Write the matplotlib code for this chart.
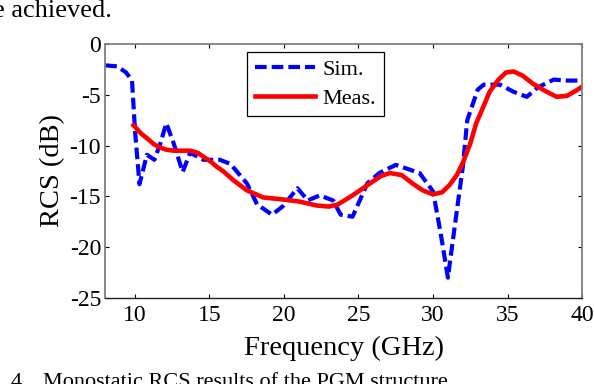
import matplotlib
matplotlib.use("Agg")
import matplotlib.pyplot as plt

# Simulated RCS (blue dashed)
sim_freq = [8.0, 8.8, 9.4, 9.8, 10.0, 10.3, 10.8, 11.3, 11.7, 12.1, 12.6, 13.2, 13.7, 14.6, 15.7,
            16.4, 17.5, 18.2, 19.2, 19.9, 20.9, 21.6, 22.4, 23.3, 23.8, 24.6, 25.6, 26.4, 27.5,
            28.3, 29.1, 30.0, 30.5, 31.0, 31.5, 32.0, 32.3, 33.0, 33.4, 34.5, 35.4, 36.3, 37.0,
            38.1, 39.0, 40.0]
sim_rcs = [-2.1, -2.2, -2.8, -3.6, -8.5, -13.8, -10.9, -11.4, -9.8, -7.8, -9.8, -12.6, -10.7,
           -11.4, -11.4, -11.8, -13.7, -15.8, -16.8, -16.0, -14.2, -15.4, -14.9, -15.4, -16.8,
           -17.0, -13.7, -12.7, -11.9, -12.3, -12.7, -14.5, -18.5, -23.0, -17.5, -12.1, -7.5,
           -4.5, -4.0, -4.0, -4.7, -5.2, -4.3, -3.5, -3.6, -3.6]

# Measured RCS (red solid)
meas_freq = [9.9, 10.4, 10.9, 11.3, 11.7, 12.1, 12.6, 13.2, 13.7, 14.2, 14.6, 15.1, 15.5, 15.9,
             16.6, 17.5, 18.6, 19.9, 21.0, 22.2, 23.0, 23.6, 24.5, 25.2, 25.9, 26.5, 27.1,
             27.9, 28.6, 29.3, 30.0, 30.6, 31.1, 31.6, 32.0, 32.5, 32.9, 33.4, 33.8, 34.4,
             34.9, 35.4, 36.0, 36.7, 37.5, 38.3, 39.0, 39.7, 40.0]
meas_rcs = [-8.0, -8.8, -9.4, -9.9, -10.2, -10.4, -10.5, -10.5, -10.5, -10.7, -11.1, -11.6,
            -12.1, -12.5, -13.4, -14.4, -15.1, -15.3, -15.5, -15.9, -16.0, -15.8, -15.0, -14.3,
            -13.6, -13.0, -12.7, -12.9, -13.7, -14.4, -14.8, -14.6, -13.9, -12.9, -11.7, -9.8,
            -7.8, -6.1, -4.7, -3.5, -2.8, -2.7, -3.1, -3.9, -4.6, -5.2, -5.1, -4.5, -4.2]

x_ticks = [10, 15, 20, 25, 30, 35, 40]
y_ticks = [0, -5, -10, -15, -20, -25]

plt.rcParams['font.family'] = ['Liberation Serif', 'DejaVu Serif']

fig = plt.figure(figsize=(5.94, 3.84), dpi=100)
ax = fig.add_axes([0.1771, 0.224, 0.8027, 0.6614])

ax.plot(sim_freq, sim_rcs, color='#0000ff', linestyle=(0, (2.8, 1.2)), linewidth=3.0, label='Sim.')
ax.plot(meas_freq, meas_rcs, color='#ff0000', linestyle='-', linewidth=3.3, label='Meas.')

ax.set_xlim(8, 40)
ax.set_ylim(-25, 0)
ax.set_xticks(x_ticks)
ax.set_yticks(y_ticks)
ax.set_xticklabels([str(t) for t in x_ticks])
ax.set_yticklabels([str(t) for t in y_ticks])
ax.tick_params(direction='in', length=3, width=0.8, top=True, right=True,
               labelsize=17, colors='black')
ax.tick_params(axis='x', pad=5)
ax.tick_params(axis='y', pad=3)
for s in ['left', 'top', 'right']:
    ax.spines[s].set_color('#808080')
    ax.spines[s].set_linewidth(1.3)
ax.spines['bottom'].set_color('#202020')
ax.spines['bottom'].set_linewidth(1.0)

ax.set_xlabel('Frequency (GHz)', fontsize=20.5, labelpad=7)
ax.set_ylabel('RCS (dB)', fontsize=20.5, labelpad=3)

leg = ax.legend(loc='upper left', bbox_to_anchor=(0.298, 0.969), fontsize=16,
                fancybox=False, edgecolor='black', framealpha=1, handlelength=2.7,
                borderpad=0.35, labelspacing=0.35, handletextpad=0.35, borderaxespad=0)
leg.get_frame().set_linewidth(0.9)

fig.text(112 / 594, 1 - 17 / 384, 'e achieved.', fontsize=19, ha='right', va='baseline')
fig.text(28 / 594, 1 - 387 / 384, 'Fig. 4.', fontsize=16, ha='right', va='baseline')
fig.text(43 / 594, 1 - 387 / 384, 'Monostatic RCS results of the PGM structure', fontsize=16,
         ha='left', va='baseline')

fig.savefig('out.png', dpi=100)
